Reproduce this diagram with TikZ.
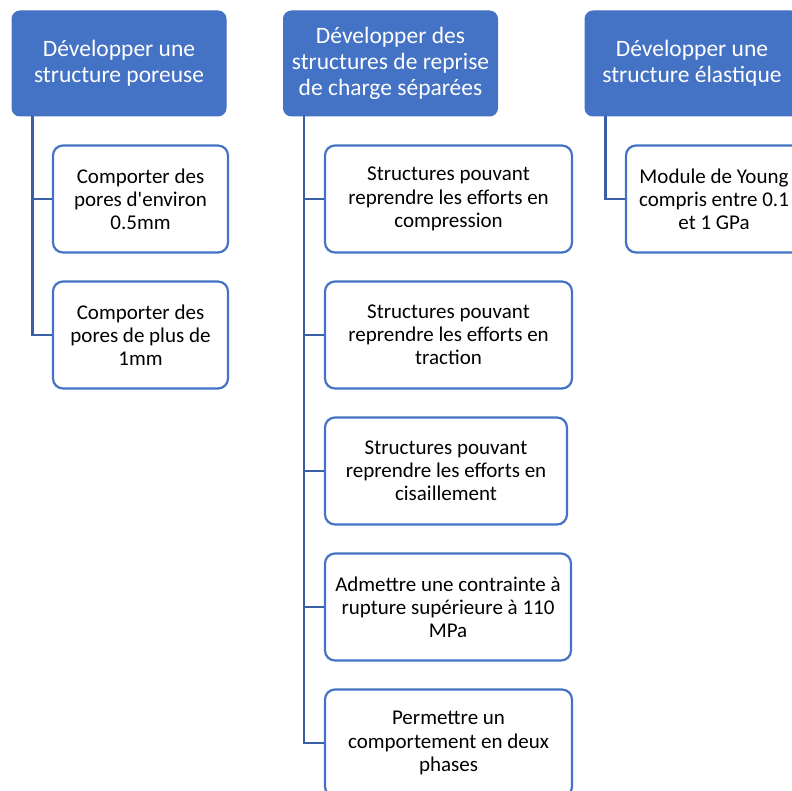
\documentclass[tikz,border=0pt]{standalone}
\usepackage{fontspec}
\setmainfont{Carlito}
\definecolor{hdr}{HTML}{4472C4}
\definecolor{cnx}{HTML}{3B5FA6}
\begin{document}
\begin{tikzpicture}[x=1pt,y=-1pt,
  header/.style={draw=hdr, fill=hdr, text=white, rounded corners=8pt, line width=1pt,
    minimum width=214pt, minimum height=105pt, align=center, inner sep=2pt,
    font=\fontsize{23.5}{26}\selectfont, execute at begin node={\rule{0pt}{21.5pt}}},
  child/.style={draw=hdr, fill=white, text=black, rounded corners=10pt, line width=2.2pt,
    minimum height=107pt, align=center, inner sep=2pt,
    font=\fontsize{21}{23.2}\selectfont, execute at begin node={\rule{0pt}{19.5pt}}},
  conn/.style={draw=cnx, line width=2.8pt}]
\useasboundingbox (0,0) rectangle (792,791);
\clip (0,0) rectangle (792,791);
% headers
\node[header] (h1) at (119,63.5) {Développer une\\structure poreuse};
\node[header] (h2) at (390.5,63.5) {Développer des\\structures de reprise\\de charge séparées};
\node[header] (h3) at (692,63.5) {Développer une\\structure élastique};
% left children
\node[child, minimum width=175pt] (a1) at (140.5,199) {Comporter des\\pores d\textquotesingle environ\\0.5mm};
\node[child, minimum width=175pt] (a2) at (140.5,335) {Comporter des\\pores de plus de\\1mm};
% middle children
\node[child, minimum width=247pt] (b1) at (448.5,199) {Structures pouvant\\reprendre les efforts en\\compression};
\node[child, minimum width=247pt] (b2) at (448.5,335) {Structures pouvant\\reprendre les efforts en\\traction};
\node[child, minimum width=242pt] (b3) at (446,471) {Structures pouvant\\reprendre les efforts en\\cisaillement};
\node[child, minimum width=246pt] (b4) at (448,607) {Admettre une contrainte à\\rupture supérieure à 110\\MPa};
\node[child, minimum width=247pt] (b5) at (448.5,743) {Permettre un\\comportement en deux\\phases};
% right child
\node[child, minimum width=176pt] (c1) at (714,199) {Module de Young\\compris entre 0.1\\et 1 GPa};
% connectors
\draw[conn] ([xshift=21pt]h1.south west) |- (a1.west);
\draw[conn] ([xshift=21pt]h1.south west) |- (a2.west);
\draw[conn] ([xshift=21pt]h2.south west) |- (b1.west);
\draw[conn] ([xshift=21pt]h2.south west) |- (b2.west);
\draw[conn] ([xshift=21pt]h2.south west) |- (b3.west);
\draw[conn] ([xshift=21pt]h2.south west) |- (b4.west);
\draw[conn] ([xshift=21pt]h2.south west) |- (b5.west);
\draw[conn] ([xshift=21pt]h3.south west) |- (c1.west);
\end{tikzpicture}
\end{document}
